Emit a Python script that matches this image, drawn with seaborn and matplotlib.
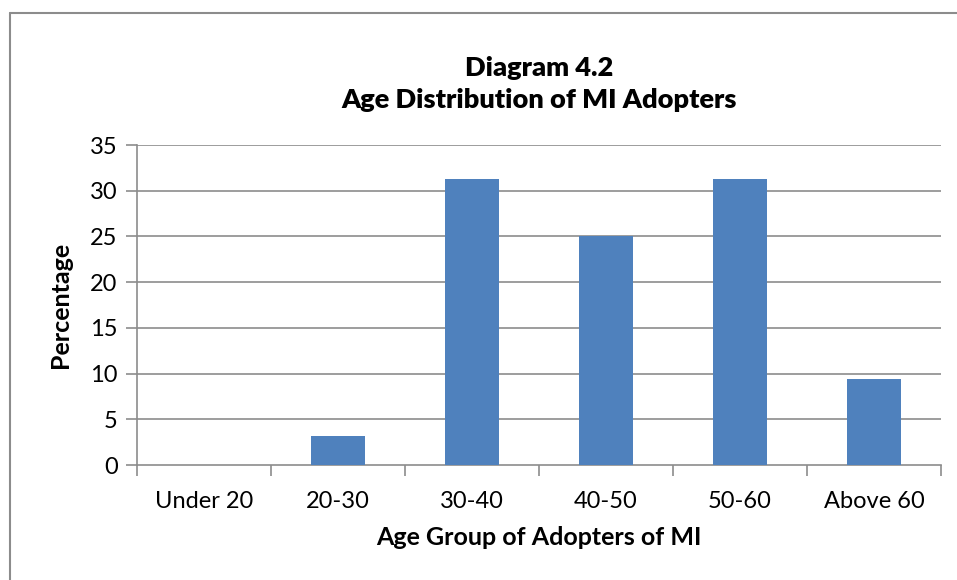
import matplotlib
matplotlib.use("Agg")
import matplotlib.pyplot as plt
import seaborn as sns
import pandas as pd
from matplotlib.lines import Line2D

categories = ["Under 20", "20-30", "30-40", "40-50", "50-60", "Above 60"]
percentages = [0, 3.125, 31.25, 25, 31.25, 9.375]
y_ticks = [0, 5, 10, 15, 20, 25, 30, 35]

sns.set_theme(style="white")
plt.rcParams['font.family'] = ['Lato', 'DejaVu Sans']

df = pd.DataFrame({"Age Group": categories, "Percentage": percentages})

fig = plt.figure(figsize=(9.57, 5.8), dpi=100)
ax = fig.add_axes([137/957, 1 - 465/580, (941-137)/957, (465-145)/580])

sns.barplot(data=df, x="Age Group", y="Percentage", color="#4F81BD",
            width=0.4, saturation=1, linewidth=0, ax=ax, zorder=3)

ax.set_ylim(0, 35)
ax.set_xlim(-0.5, len(categories) - 0.5)
ax.set_yticks(y_ticks)
ax.set_yticklabels([str(t) for t in y_ticks], fontsize=17, color="black")
ax.set_xticks(range(len(categories)))
ax.set_xticklabels(categories, fontsize=17, color="black")

grid_color = "#8c8c8c"
for t in y_ticks[1:]:
    ax.axhline(t, color=grid_color, lw=1.2, zorder=1)

for s in ["top", "right"]:
    ax.spines[s].set_visible(False)
for s in ["left", "bottom"]:
    ax.spines[s].set_color(grid_color)
    ax.spines[s].set_linewidth(1.2)

ax.tick_params(axis="y", which="major", left=True, length=8, width=1.2,
               color=grid_color, pad=6)
ax.tick_params(axis="x", which="major", bottom=False, pad=13)
ax.set_xticks([i - 0.5 for i in range(len(categories) + 1)], minor=True)
ax.tick_params(axis="x", which="minor", bottom=True, length=8, width=1.2,
               color=grid_color)

ax.set_xlabel("Age Group of Adopters of MI", fontsize=18, fontweight="bold",
              color="black", labelpad=10)
ax.set_ylabel("Percentage", fontsize=18, fontweight="bold", color="black",
              labelpad=13)

fig.text(539/957, 1 - 68/580, "Diagram 4.2", ha="center", va="center",
         fontsize=19.5, fontweight="heavy", color="black")
fig.text(539/957, 1 - 100/580, "Age Distribution of MI Adopters", ha="center",
         va="center", fontsize=19.5, fontweight="heavy", color="black")

# figure border (left and top visible)
fig.add_artist(Line2D([10/957, 10/957], [0, 1 - 13/580], transform=fig.transFigure,
                      color=grid_color, lw=1.5))
fig.add_artist(Line2D([10/957, 1], [1 - 13/580, 1 - 13/580], transform=fig.transFigure,
                      color=grid_color, lw=1.5))

fig.savefig("out.png", dpi=100)
